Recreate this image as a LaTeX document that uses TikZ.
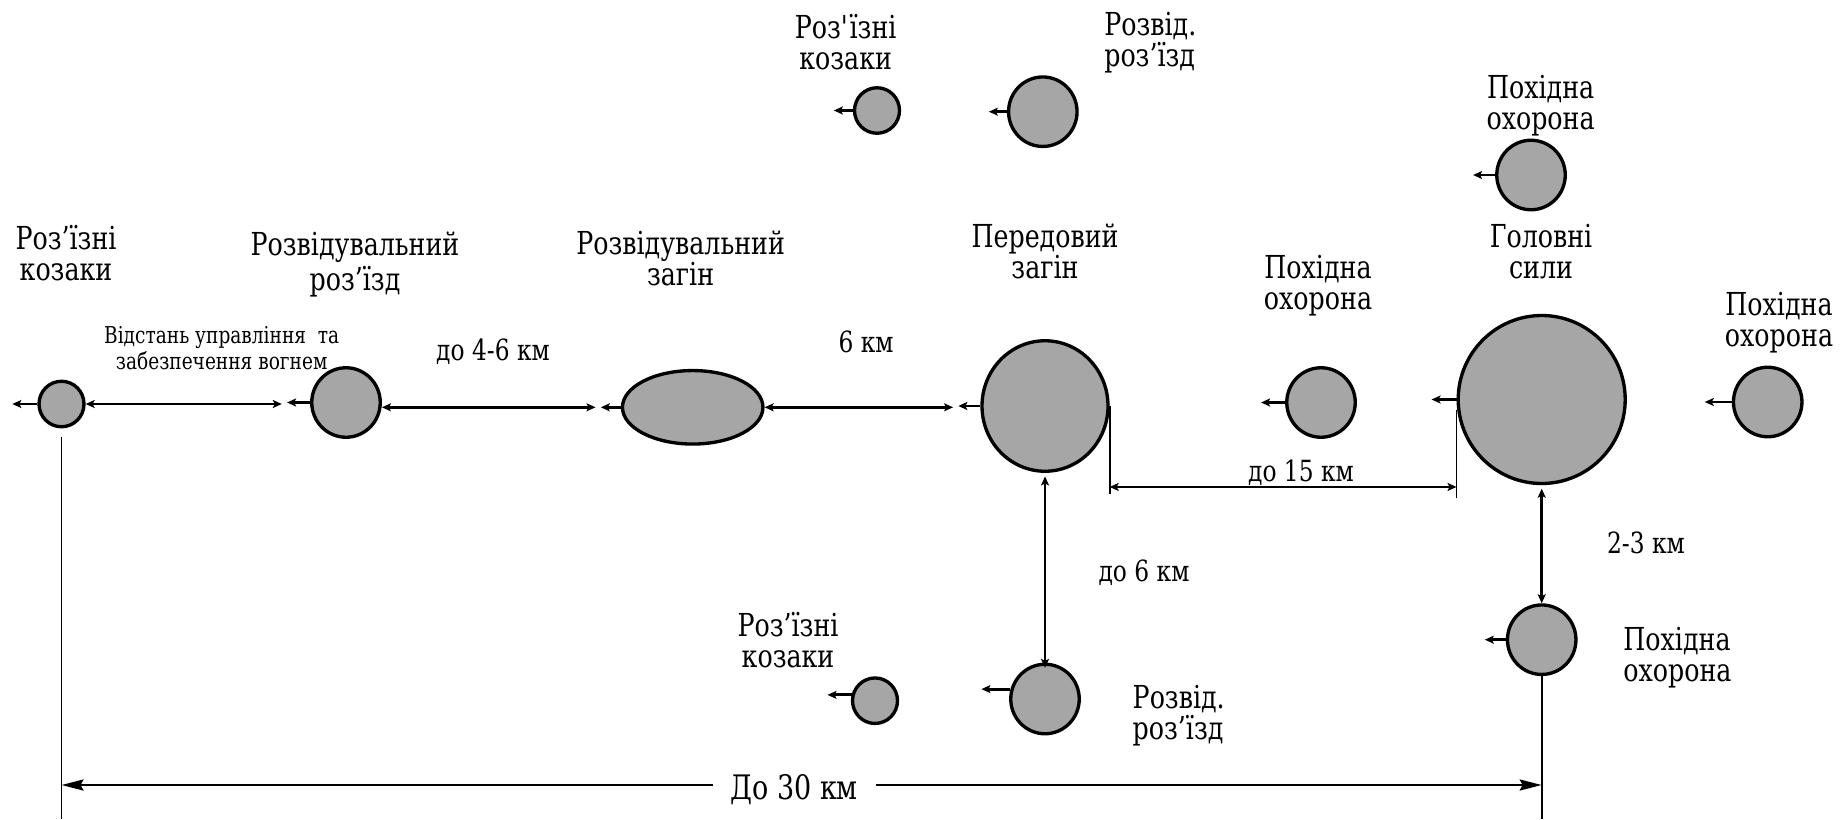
\documentclass[tikz,border=0pt]{standalone}
\usepackage{fontspec}
\setmainfont{DejaVu Serif}[FakeStretch=0.8]
\usetikzlibrary{shapes.geometric,arrows.meta}
\definecolor{unitgray}{HTML}{A6A6A6}
\newcommand\lblfont{\rmfamily\fontsize{9}{8.8}\selectfont}
\newcommand\kmfont{\rmfamily\fontsize{8.3}{9}\selectfont}
\newcommand\notefont{\rmfamily\fontsize{6.6}{7.4}\selectfont}
\newcommand\spanfont{\rmfamily\fontsize{9.6}{11}\selectfont}
\tikzset{
	unitbox/.style 2 args={ellipse, draw, fill=unitgray, line width=0.95pt, inner sep=0pt, minimum width=#1, minimum height=#2},
	smallunit/.style={unitbox={4.5mm}{4.55mm}},
	midunit/.style={unitbox={6.85mm}{6.95mm}},
	movearrow/.style={-{Stealth[length=0.9mm,width=0.8mm,inset=0.2mm]}, line width=0.8pt},
	distarrow/.style={{Stealth[length=0.9mm,width=0.8mm,inset=0.2mm]}-{Stealth[length=0.9mm,width=0.8mm,inset=0.2mm]}, line width=0.8pt},
	spanarrow/.style={{Stealth[length=2.2mm,width=1.1mm,inset=0.3mm]}-{Stealth[length=2.2mm,width=1.1mm,inset=0.3mm]}, line width=0.75pt},
	guideline/.style={line width=0.5pt},
	lbltext/.style={font=\lblfont, align=center, inner sep=0pt, anchor=north},
	kmtext/.style={font=\kmfont, inner sep=0pt, anchor=base},
}
\begin{document}
\begin{tikzpicture}[x=0.1mm, y=-0.1mm]
	\useasboundingbox (0,0) rectangle (1846,819);

	% units
	\node[smallunit] (ka) at (61.5,404) {};
	\node[midunit] (rr) at (346,402.5) {};
	\node[unitbox={14.05mm}{7.35mm}] (rz) at (692.7,407.3) {};
	\node[unitbox={12.6mm}{13.05mm}] (pz) at (1045,406) {};
	\node[midunit] (oe) at (1321,402.5) {};
	\node[unitbox={16.7mm}{16.8mm}] (gs) at (1541.7,399.5) {};
	\node[midunit] (or) at (1767.7,402) {};
	\node[midunit] (ob) at (1541.7,639.7) {};
	\node[smallunit] (kt) at (877,110.5) {};
	\node[midunit] (rt) at (1042.8,111.7) {};
	\node[midunit] (ot) at (1531,175) {};
	\node[smallunit] (kb) at (875,700.7) {};
	\node[midunit] (rb) at (1045,699) {};

	% direction of march
	\foreach \u/\len in {ka/25, rr/23, rz/20, pz/22, oe/24, gs/25, or/27, ob/21, kt/19, rt/18, ot/22}
		\draw[movearrow] (\u.west) -- ++(-\len,0) coordinate (\u-tip);
	\draw[movearrow] (kb.166) -- ++(-24,0);
	\draw[movearrow] (rb.164) -- ++(-29,0);

	% distances
	\draw[distarrow, shorten >=1.5pt] (ka.east) -- (ka.east -| rr-tip);
	\draw[distarrow, shorten >=1.5pt] (rr.east |- rz.west) -- (rz-tip);
	\draw[distarrow, shorten >=1.5pt] (rz.east) -- (rz.east -| pz-tip);
	\draw[guideline] (pz.east) -- ++(0,88) coordinate (pzend);
	\draw[guideline] ([yshift=-3pt]gs.west) -- ++(0,88) coordinate (gsend);
	\draw[distarrow] ([yshift=2pt]pzend) -- ([yshift=2pt]pzend -| gsend);
	\draw[distarrow, shorten <=1pt, shorten >=-1.5pt] (pz.south) -- (rb.north);
	\draw[distarrow, shorten <=1pt] (gs.south) -- (ob.north);

	% depth of the march
	\draw[guideline] ([yshift=-2.4pt]ka.south) -- (ka.south |- 0,819);
	\draw[guideline] (ob.south) -- (ob.south |- 0,819);
	\draw[spanarrow] (ka.south |- 0,785) -- (ob.south |- 0,785)
		node[pos=0.495, font=\spanfont, fill=white, inner xsep=5pt, inner ysep=0pt, anchor=base, yshift=-4.2pt] (span) {До 30 км};

	% labels
	\node[lbltext] (l-ka) at (66,224.9) {Роз’їзні\\козаки};
	\node[lbltext] (l-rr) at (355,231) {Розвідувальний\\роз’їзд};
	\node[lbltext] (l-rz) at (680.6,229.9) {Розвідувальний\\загін};
	\node[lbltext] (l-pz) at (1045,223.2) {Передовий\\загін};
	\node[lbltext] (l-oe) at (1318,254.9) {Похідна\\охорона};
	\node[lbltext] (l-gs) at (1541,223.2) {Головні\\сили};
	\node[lbltext] (l-or) at (1779,291.2) {Похідна\\охорона};
	\node[lbltext] (l-ot) at (1540.6,74.9) {Похідна\\охорона};
	\node[lbltext] (l-kt) at (845.7,13.2) {Роз\textquotesingle їзні\\козаки};
	\node[lbltext, anchor=north west, align=left] (l-rt) at (1103.6,11.5) {Розвід.\\роз’їзд};
	\node[lbltext] (l-kb) at (788,611.5) {Роз’їзні\\козаки};
	\node[lbltext, anchor=north west, align=left] (l-rb) at (1132,684.9) {Розвід.\\роз’їзд};
	\node[lbltext, anchor=north west, align=left] (l-ob) at (1622.7,626.5) {Похідна\\охорона};

	\node[font=\notefont, align=center, inner sep=0pt, anchor=north] (note) at (221.7,325.7) {Відстань управління~ та\\забезпечення вогнем};
	\node[kmtext] (d1) at (493,360) {до 4-6 км};
	\node[kmtext] (d2) at (866,352.7) {6 км};
	\node[kmtext] (d3) at (1301,481.7) {до 15 км};
	\node[kmtext] (d4) at (1144,581.7) {до 6 км};
	\node[kmtext] (d5) at (1646,553.3) {2-3 км};
\end{tikzpicture}
\end{document}
